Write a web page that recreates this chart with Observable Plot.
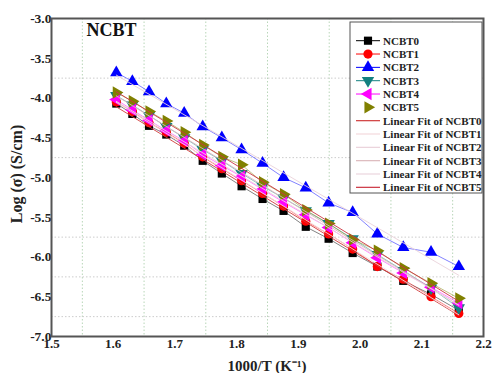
<!DOCTYPE html>
<html><head><meta charset="utf-8">
<script src="https://cdn.jsdelivr.net/npm/d3@7"></script>
<script src="https://cdn.jsdelivr.net/npm/@observablehq/plot@0.6"></script>
<style>body{margin:0;background:#fff}#chart{position:relative;width:494px;height:373px}</style>
</head><body><div id="chart"></div>
<script>
const invT = [1.605,1.631,1.658,1.686,1.715,1.745,1.776,1.808,1.842,1.876,1.912,1.949,1.988,2.028,2.070,2.115,2.160];
const ncbt0 = [-4.07,-4.20,-4.35,-4.46,-4.60,-4.79,-4.95,-5.11,-5.27,-5.42,-5.62,-5.77,-5.95,-6.12,-6.30,-6.47,-6.67];
const ncbt1 = [-4.05,-4.17,-4.31,-4.43,-4.57,-4.74,-4.89,-5.04,-5.20,-5.36,-5.55,-5.71,-5.90,-6.12,-6.28,-6.50,-6.71];
const ncbt2 = [-3.68,-3.79,-3.92,-4.07,-4.19,-4.36,-4.50,-4.65,-4.82,-5.00,-5.13,-5.32,-5.44,-5.71,-5.88,-5.94,-6.12];
const ncbt3 = [-3.97,-4.09,-4.22,-4.36,-4.50,-4.65,-4.79,-4.95,-5.11,-5.26,-5.42,-5.58,-5.77,-5.97,-6.17,-6.39,-6.64];
const ncbt4 = [-4.02,-4.15,-4.28,-4.41,-4.54,-4.71,-4.85,-4.99,-5.15,-5.31,-5.47,-5.63,-5.82,-6.01,-6.20,-6.38,-6.58];
const ncbt5 = [-3.93,-4.04,-4.17,-4.29,-4.43,-4.59,-4.74,-4.84,-5.06,-5.21,-5.41,-5.58,-5.78,-5.92,-6.14,-6.33,-6.52];
const names = ["NCBT0","NCBT1","NCBT2","NCBT3","NCBT4","NCBT5"];
const colors = ["#000000","#ff0000","#0000ff","#138080","#ff00ff","#808000"];
const symbols = ["square","circle","triangle","triangle","triangle","triangle"];
const rotations = [0,0,0,180,-90,90];
const fitColors = ["#d03a3a","#f3d9dc","#ead2da","#dcb8bc","#ecd6de","#cc3340"];
const xTicks = [1.5,1.6,1.7,1.8,1.9,2.0,2.1,2.2];
const yTicks = [-7.0,-6.5,-6.0,-5.5,-5.0,-4.5,-4.0,-3.5,-3.0];
const xGrid = [1.55,1.65,1.75,1.85,1.95,2.05,2.15];
const yGrid = [-3.75,-4.75,-5.75,-6.25,-6.75];
const xLabel = "1000/T (K\u207B\u00B9)";
const yLabel = "Log (\u03C3) (S/cm)";
const title = "NCBT";

const series = [ncbt0,ncbt1,ncbt2,ncbt3,ncbt4,ncbt5];
const rows = names.map((n,i)=>invT.map((x,j)=>({name:n, x, y:series[i][j]})));
const font = "'Liberation Serif','Times New Roman',serif";

const marks = [
  Plot.gridX(xGrid, {stroke:"#b9d6b9", strokeOpacity:1, strokeDasharray:"1.5,2"}),
  Plot.gridY(yGrid, {stroke:"#cccccc", strokeOpacity:1, strokeDasharray:"1.5,2"}),
];
rows.forEach((r,i)=>{
  marks.push(Plot.line(r,{x:"x",y:"y",stroke:colors[i],strokeWidth:0.7,strokeOpacity:0.7}));
});
rows.forEach((r,i)=>{
  marks.push(Plot.dot(r,{x:"x",y:"y",symbol:symbols[i],rotate:rotations[i],fill:colors[i],stroke:"none",r:4.6}));
});
rows.forEach((r,i)=>{
  marks.push(Plot.linearRegressionY(r,{x:"x",y:"y",stroke:fitColors[i],strokeWidth:0.9,ci:0}));
});
marks.push(
  Plot.axisX({ticks:xTicks, tickFormat:d=>d.toFixed(1), tickSize:0, tickPadding:2, label:null, fontSize:13, fontWeight:"bold"}),
  Plot.axisY({ticks:yTicks, tickFormat:d=>d.toFixed(1), tickSize:0, tickPadding:0, label:null, fontSize:13.5, fontWeight:"bold"}),
  Plot.frame({stroke:"#555", strokeWidth:2}),
  Plot.text([title],{frameAnchor:"top-left", dx:35, dy:5, fontSize:18, fontWeight:"bold", fill:"#111", textAnchor:"start", lineAnchor:"top"})
);

const chart = Plot.plot({
  width:494, height:373,
  marginLeft:51, marginRight:11, marginTop:18, marginBottom:37,
  style:{fontFamily:font, color:"#222", background:"#fff"},
  x:{domain:[1.5,2.2]},
  y:{domain:[-7,-3]},
  marks
});
document.getElementById("chart").appendChild(chart);

const svg = d3.select(chart);
// axis labels
svg.append("text").attr("x",267).attr("y",366).attr("dy","0.35em").attr("text-anchor","middle")
  .attr("font-family",font).attr("font-size",15).attr("font-weight","bold").attr("fill","#222").text(xLabel);
svg.append("text").attr("transform","translate(16,174) rotate(-90)").attr("dy","0.35em").attr("text-anchor","middle")
  .attr("font-family",font).attr("font-size",16).attr("font-weight","bold").attr("fill","#222").text(yLabel);

// legend
const lg = svg.append("g").attr("font-family",font).attr("font-size",11).attr("font-weight","bold").attr("text-anchor","start");
lg.append("rect").attr("x",350).attr("y",22).attr("width",132).attr("height",171).attr("fill","#fff").attr("stroke","#555").attr("stroke-width",1);
const items = names.map((n,i)=>({label:n, kind:"data", i})).concat(names.map((n,i)=>({label:"Linear Fit of "+n, kind:"fit", i})));
items.forEach((it,k)=>{
  const yy = 40.7 + k*13.33;
  if (it.kind==="data") {
    if (it.i!==5) lg.append("line").attr("x1",356).attr("x2",380).attr("y1",yy).attr("y2",yy).attr("stroke",colors[it.i]).attr("stroke-width",1);
    const sym = {square:d3.symbolSquare, circle:d3.symbolCircle, triangle:d3.symbolTriangle}[symbols[it.i]];
    lg.append("path").attr("d",d3.symbol(sym, Math.PI*4.6*4.6)()).attr("fill",colors[it.i])
      .attr("transform",`translate(368,${yy}) rotate(${rotations[it.i]})`);
  } else {
    lg.append("line").attr("x1",356).attr("x2",380).attr("y1",yy).attr("y2",yy).attr("stroke",fitColors[it.i]).attr("stroke-width",1.2);
  }
  lg.append("text").attr("x",383).attr("y",yy).attr("dy","0.35em").attr("fill","#222").text(it.label);
});
</script></body></html>
